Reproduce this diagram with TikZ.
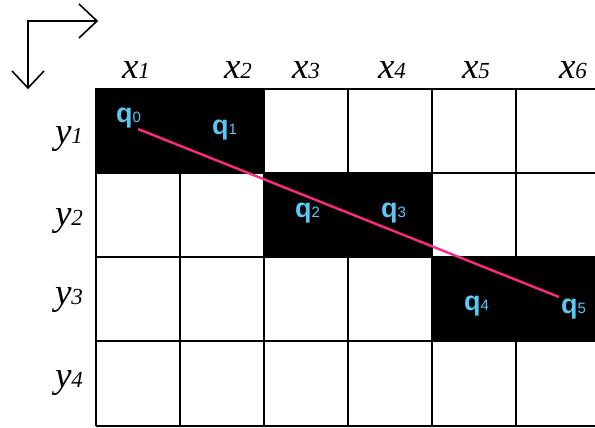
\documentclass[tikz,border=0pt]{standalone}
\usepackage{fontspec}
\setmainfont{Liberation Serif}
\newfontfamily\qfont{Liberation Sans}
\definecolor{qblue}{RGB}{90,200,245}
\definecolor{pinkline}{RGB}{255,40,130}
\newcommand{\axlab}[2]{{\fontsize{37}{37}\selectfont\itshape #1}{\fontsize{23}{23}\selectfont\itshape #2}}
\newcommand{\qlab}[1]{{\qfont\bfseries\fontsize{27}{27}\selectfont q}{\qfont\fontsize{15}{15}\selectfont #1}}
\begin{document}
\begin{tikzpicture}[x=1pt,y=-1pt,
  gridline/.style={line width=2.4pt,black},
  cellfill/.style={fill=black},
  axlabel/.style={anchor=base,inner sep=0pt},
  qlabel/.style={anchor=base west,inner sep=0pt,text=qblue},
  dirarrow/.style={line width=1.6pt,black}]
\useasboundingbox (0,0) rectangle (595,428);
% grid
\foreach \xx in {96,180,264,348,432,516,600} \draw[gridline] (\xx,89) -- (\xx,426);
\foreach \yy in {89,173,257,341,426} \draw[gridline] (96,\yy) -- (600,\yy);
% black cells
\fill[cellfill] (95,88) rectangle (264,173);
\fill[cellfill] (264,173) rectangle (432,257);
\fill[cellfill] (432,257) rectangle (600,341);
% axis labels
\node[axlabel] (x1) at (136,78) {\axlab{x}{1}};
\node[axlabel] (x2) at (238,78) {\axlab{x}{2}};
\node[axlabel] (x3) at (306,78) {\axlab{x}{3}};
\node[axlabel] (x4) at (392,78) {\axlab{x}{4}};
\node[axlabel] (x5) at (476,78) {\axlab{x}{5}};
\node[axlabel] (x6) at (573,78) {\axlab{x}{6}};
\node[axlabel] (y1) at (69,143) {\axlab{y}{1}};
\node[axlabel] (y2) at (69,225) {\axlab{y}{2}};
\node[axlabel] (y3) at (69,304) {\axlab{y}{3}};
\node[axlabel] (y4) at (69,387) {\axlab{y}{4}};
% q labels
\node[qlabel] (q0) at (116,123) {\qlab{0}};
\node[qlabel] (q1) at (212,135) {\qlab{1}};
\node[qlabel] (q2) at (295,217) {\qlab{2}};
\node[qlabel] (q3) at (381,217) {\qlab{3}};
\node[qlabel] (q4) at (464,310) {\qlab{4}};
\node[qlabel] (q5) at (561,313) {\qlab{5}};
% pink path
\coordinate (pstart) at (138,129);
\coordinate (pend) at (559,297);
\draw[pinkline,line width=2.4pt] (pstart) -- (pend);
% direction arrows
\coordinate (corner) at (28,21);
\coordinate (hend) at (97,21);
\coordinate (vend) at (28,88);
\draw[dirarrow] (hend) -- (corner) -- (vend);
\draw[dirarrow] (79,4) -- (hend) -- (79,38);
\draw[dirarrow] (12,71) -- (vend) -- (44,71);
\end{tikzpicture}
\end{document}
